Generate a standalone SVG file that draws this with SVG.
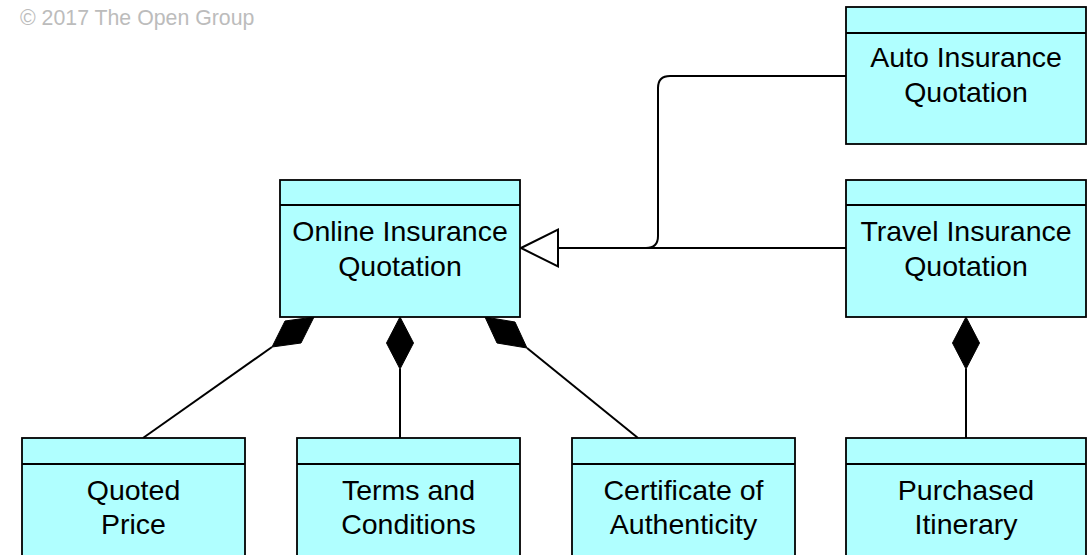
<svg xmlns="http://www.w3.org/2000/svg" width="1092" height="555" viewBox="0 0 1092 555">
<style>
.box{fill:#b0ffff;stroke:#000;stroke-width:1.8}
.hdr{fill:none;stroke:#000;stroke-width:1.8}
.lbl{font-family:"Liberation Sans",Arial,sans-serif;font-size:28.5px;fill:#000;text-anchor:middle}
.edge{fill:none;stroke:#000;stroke-width:2}
.dia{fill:#000;stroke:#000;stroke-width:1}
.copy{font-family:"Liberation Sans",Arial,sans-serif;font-size:21.3px;fill:#bcbcbc}
</style>
<rect width="1092" height="555" fill="#fff"/>
<text class="copy" x="20" y="25">© 2017 The Open Group</text>
<g id="connectors">
<path class="edge" d="M846,248 H558"/>
<path class="edge" d="M846,76 H670 Q658,76 658,88 V236 Q658,248 646,248"/>
<polygon points="521,248 558,229.5 558,266.5" fill="#fff" stroke="#000" stroke-width="2"/>
<path class="edge" d="M272,347 L143,438"/>
<polygon class="dia" points="314,317 285,321 272,347 301,343"/>
<path class="edge" d="M400,369 V438"/>
<polygon class="dia" points="400,317 413.5,343 400,369 386.5,343"/>
<path class="edge" d="M527,348 L638,438"/>
<polygon class="dia" points="485,317 515,322 527,348 497,343"/>
<path class="edge" d="M966,369 V438"/>
<polygon class="dia" points="966,317 979.5,343 966,369 952.5,343"/>
</g>
<g id="online">
<rect class="box" x="280" y="180" width="240" height="137"/>
<line class="hdr" x1="280" y1="205" x2="520" y2="205"/>
<text class="lbl" x="400" y="241">Online Insurance</text>
<text class="lbl" x="400" y="276">Quotation</text>
</g>
<g id="auto">
<rect class="box" x="846" y="7" width="240" height="137"/>
<line class="hdr" x1="846" y1="33" x2="1086" y2="33"/>
<text class="lbl" x="966" y="67">Auto Insurance</text>
<text class="lbl" x="966" y="102">Quotation</text>
</g>
<g id="travel">
<rect class="box" x="846" y="180" width="240" height="137"/>
<line class="hdr" x1="846" y1="205" x2="1086" y2="205"/>
<text class="lbl" x="966" y="241">Travel Insurance</text>
<text class="lbl" x="966" y="276">Quotation</text>
</g>
<g id="quoted">
<rect class="box" x="22" y="438" width="223" height="140"/>
<line class="hdr" x1="22" y1="464" x2="245" y2="464"/>
<text class="lbl" x="133.5" y="500">Quoted</text>
<text class="lbl" x="133.5" y="534">Price</text>
</g>
<g id="terms">
<rect class="box" x="297" y="438" width="223" height="140"/>
<line class="hdr" x1="297" y1="464" x2="520" y2="464"/>
<text class="lbl" x="408.5" y="500">Terms and</text>
<text class="lbl" x="408.5" y="534">Conditions</text>
</g>
<g id="certificate">
<rect class="box" x="572" y="438" width="223" height="140"/>
<line class="hdr" x1="572" y1="464" x2="795" y2="464"/>
<text class="lbl" x="683.5" y="500">Certificate of</text>
<text class="lbl" x="683.5" y="534">Authenticity</text>
</g>
<g id="purchased">
<rect class="box" x="846" y="438" width="240" height="140"/>
<line class="hdr" x1="846" y1="464" x2="1086" y2="464"/>
<text class="lbl" x="966" y="500">Purchased</text>
<text class="lbl" x="966" y="534">Itinerary</text>
</g>
</svg>
